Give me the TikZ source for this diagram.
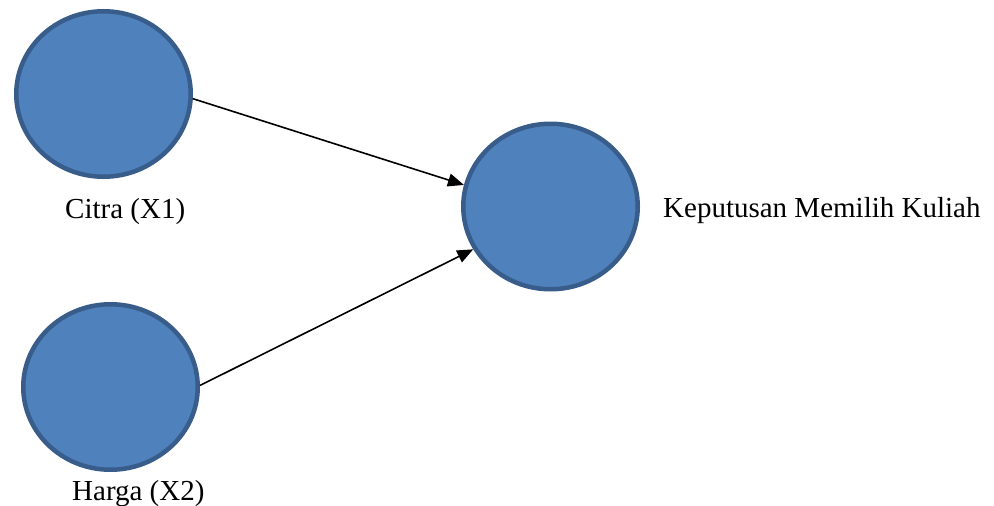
\documentclass[tikz,border=0pt]{standalone}
\usepackage{fontspec}
\setmainfont{Liberation Serif}
\usetikzlibrary{shapes.geometric,arrows.meta}
\definecolor{latfill}{HTML}{4F81BD}
\definecolor{latedge}{HTML}{385D8A}
\tikzset{
  latent/.style={ellipse, draw=latedge, fill=latfill, line width=4.5pt,
    minimum width=174.5pt, minimum height=165.5pt, inner sep=0pt},
  caption/.style={anchor=base west, inner sep=0pt,
    font=\fontsize{29}{35}\selectfont},
  path/.style={line width=1.6pt, -{Triangle[length=16pt,width=13pt]}}
}
\begin{document}
\begin{tikzpicture}[x=1pt,y=-1pt]
  \useasboundingbox (0,0) rectangle (994,506);
  % latent variables
  \node[latent] (citra) at (103.5,94) {};
  \node[latent] (harga) at (110.5,387) {};
  \node[latent] (kep) at (550.5,206.5) {};
  % labels
  \node[caption] (lc) at (65,218) {Citra (X1)};
  \node[caption] (lh) at (72,500) {Harga (X2)};
  \node[caption] (lk) at (663,217) {Keputusan Memilih Kuliah};
  % structural paths
  \draw[path] (citra.-3) -- (kep.166);
  \draw[path] (harga.1) -- (kep.209);
\end{tikzpicture}
\end{document}
